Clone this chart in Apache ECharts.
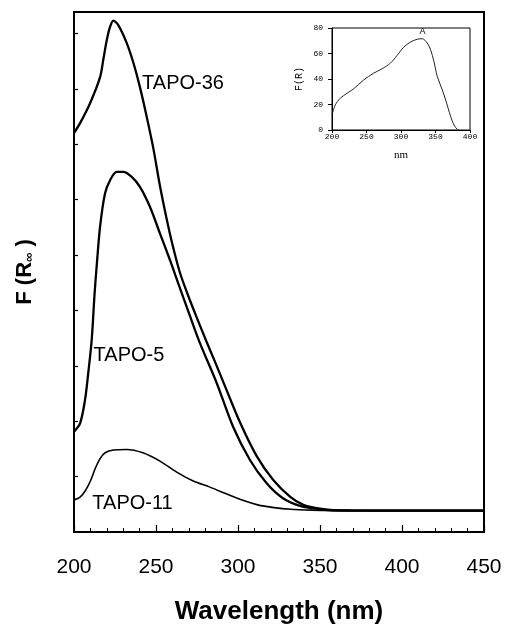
<!DOCTYPE html>
<html><head><meta charset="utf-8">
<script src="https://cdn.jsdelivr.net/npm/echarts@6/dist/echarts.min.js"></script>
<style>html,body{margin:0;padding:0;background:#fff}#c{width:507px;height:630px}</style>
</head><body><div id="c"></div>
<script>
// Main chart: wavelength (nm) and F(R∞) in arbitrary units (1 unit = 1 y tick)
const wl36 = [200,203.7,209.8,215.9,218,220,222,224,227,232.1,236.2,240.2,244.3,248.4,252.4,256.5,260.6,264.6,269.7,275,280.9,286,291,301.2,311.4,321.5,331.7,339.8,348,356.1,368.3,400,450];
const f36  = [7.20,7.38,7.74,8.21,8.55,8.88,9.12,9.23,9.15,8.83,8.47,8.03,7.50,6.92,6.25,5.65,5.12,4.68,4.26,3.86,3.43,3.07,2.71,1.98,1.37,0.94,0.64,0.49,0.43,0.40,0.39,0.385,0.385];
const wl5 = [200,203.7,206.7,208.7,210.8,212.5,213.8,215.9,218.9,222,226,230.1,235.2,240.2,246.3,252.4,258.5,264,270.7,276.8,287,297,307.3,317.5,327.4,337.8,345.7,356.1,368.3,400,450];
const f5  = [1.81,1.96,2.38,2.87,3.47,4.28,4.79,5.51,6.11,6.35,6.50,6.50,6.41,6.23,5.87,5.39,4.91,4.45,3.90,3.41,2.69,1.90,1.30,0.88,0.61,0.47,0.43,0.39,0.385,0.385,0.385];
const wl11 = [200,203.7,207,210,213,216,219,224,232,242,252.4,262.6,272.7,282.9,292,302,312,322,332,345,360,400,450];
const f11  = [0.58,0.63,0.75,0.92,1.15,1.33,1.43,1.48,1.49,1.43,1.28,1.08,0.92,0.81,0.70,0.58,0.49,0.44,0.41,0.395,0.39,0.385,0.385];
const xTicks = [200,250,300,350,400,450];
const yTickValues = [1,2,3,4,5,6,7,8,9];
// Curve labels (data coordinates)
const labelNames = ['TAPO-36','TAPO-5','TAPO-11'];
const labelX = [266.5,233.5,235.7];
const labelY = [8.10,3.19,0.52];
// Inset
const insetNm = [200,204.8,212,222,231.5,246,260.5,272.6,284.8,294.4,304,313.8,323.5,330.8,338,342.9,347.7,352.6,359.8,364.7,372,376.8,381.6,384];
const insetF  = [11.8,19.7,24.9,28.9,32.3,39.3,44.6,48,52.5,58.5,65,69,71.2,71.6,68.2,63,53.8,42,31.5,23.6,10.5,3.9,0.5,0];
const insetPeak = ['A', 331, 71.6];

const pairs = (xs, ys) => xs.map((x, i) => [x, ys[i]]);
const SANS = '"Liberation Sans", Arial, Helvetica, sans-serif';
const MONO = '"Liberation Mono", "Courier New", monospace';

function lbl(i) {
  return {
    coord: [labelX[i], labelY[i]], symbol: 'circle', symbolSize: 1,
    itemStyle: { color: 'rgba(0,0,0,0)' },
    label: { show: true, position: 'inside', formatter: labelNames[i], color: '#000', fontSize: 20, fontFamily: SANS }
  };
}

const chart = echarts.init(document.getElementById('c'), null, { renderer: 'canvas' });
chart.setOption({
  animation: false,
  backgroundColor: '#fff',
  grid: [
    { left: 74, right: 23, top: 12, bottom: 98, show: true, borderColor: '#000', borderWidth: 2, backgroundColor: 'transparent' },
    { left: 332, top: 28, width: 138, height: 102, show: true, borderColor: '#000', borderWidth: 1, backgroundColor: '#fff' }
  ],
  xAxis: [
    {
      gridIndex: 0, type: 'value', min: 200, max: 450, interval: 50,
      axisLine: { show: true, lineStyle: { color: '#000', width: 2 } },
      axisTick: { show: true, inside: true, length: 7, lineStyle: { color: '#000', width: 1.2 } },
      minorTick: { show: true, splitNumber: 5, length: 4, lineStyle: { color: '#000', width: 1 } },
      splitLine: { show: false },
      axisLabel: { show: true, margin: 25, color: '#000', fontSize: 21, fontFamily: SANS,
        customValues: xTicks, formatter: v => String(v) },
      name: 'Wavelength (nm)', nameLocation: 'middle', nameGap: 67,
      nameTextStyle: { color: '#000', fontSize: 26, fontWeight: 'bold', fontFamily: SANS }
    },
    {
      gridIndex: 1, type: 'value', min: 200, max: 400, interval: 50,
      axisLine: { show: true, lineStyle: { color: '#000', width: 1 } },
      axisTick: { show: true, inside: false, length: 3, lineStyle: { color: '#000', width: 1 } },
      splitLine: { show: false },
      axisLabel: { margin: 3, color: '#000', fontSize: 8, fontFamily: MONO },
      name: 'nm', nameLocation: 'middle', nameGap: 20,
      nameTextStyle: { color: '#000', fontSize: 11, fontFamily: '"Liberation Serif", "Times New Roman", serif' }
    }
  ],
  yAxis: [
    {
      gridIndex: 0, type: 'value', min: 0, max: 9.386,
      axisLine: { show: true, lineStyle: { color: '#000', width: 2 } },
      axisTick: { show: true, inside: true, length: 4, customValues: yTickValues, lineStyle: { color: '#000', width: 1.2 } },
      splitLine: { show: false },
      axisLabel: { show: false },
      name: '{a|F (R}{b|∞}{a| )}', nameLocation: 'middle', nameGap: 38, nameRotate: 90,
      nameTextStyle: {
        color: '#000',
        rich: {
          a: { fontSize: 22, fontWeight: 'bold', fontFamily: SANS, color: '#000' },
          b: { fontSize: 13, fontWeight: 'bold', fontFamily: SANS, color: '#000', verticalAlign: 'bottom', padding: [8, 0, 0, 0] }
        }
      }
    },
    {
      gridIndex: 1, type: 'value', min: 0, max: 80, interval: 20,
      axisLine: { show: true, lineStyle: { color: '#000', width: 1 } },
      axisTick: { show: true, inside: false, length: 4, lineStyle: { color: '#000', width: 1 } },
      splitLine: { show: false },
      axisLabel: { margin: 9, color: '#000', fontSize: 8, fontFamily: MONO },
      name: 'F(R)', nameLocation: 'middle', nameGap: 28, nameRotate: 90,
      nameTextStyle: { color: '#000', fontSize: 10, fontFamily: MONO }
    }
  ],
  series: [
    {
      name: 'TAPO-36', type: 'line', xAxisIndex: 0, yAxisIndex: 0, data: pairs(wl36, f36),
      smooth: 0.3, showSymbol: false, lineStyle: { color: '#000', width: 2.3 }, silent: true,
      markPoint: { silent: true, data: [lbl(0)] }
    },
    {
      name: 'TAPO-5', type: 'line', xAxisIndex: 0, yAxisIndex: 0, data: pairs(wl5, f5),
      smooth: 0.3, showSymbol: false, lineStyle: { color: '#000', width: 2.3 }, silent: true,
      markPoint: { silent: true, data: [lbl(1)] }
    },
    {
      name: 'TAPO-11', type: 'line', xAxisIndex: 0, yAxisIndex: 0, data: pairs(wl11, f11),
      smooth: 0.3, showSymbol: false, lineStyle: { color: '#000', width: 1.6 }, silent: true,
      markPoint: { silent: true, data: [lbl(2)] }
    },
    {
      name: 'inset', type: 'line', xAxisIndex: 1, yAxisIndex: 1, data: pairs(insetNm, insetF),
      smooth: 0.3, showSymbol: false, lineStyle: { color: '#222', width: 1 }, silent: true,
      markPoint: { silent: true, data: [{
        coord: [insetPeak[1], insetPeak[2]], symbol: 'circle', symbolSize: 1,
        itemStyle: { color: 'rgba(0,0,0,0)' },
        label: { show: true, position: 'top', distance: 2, formatter: insetPeak[0], color: '#000', fontSize: 9, fontFamily: SANS }
      }] }
    }
  ]
});
</script>
</body></html>
